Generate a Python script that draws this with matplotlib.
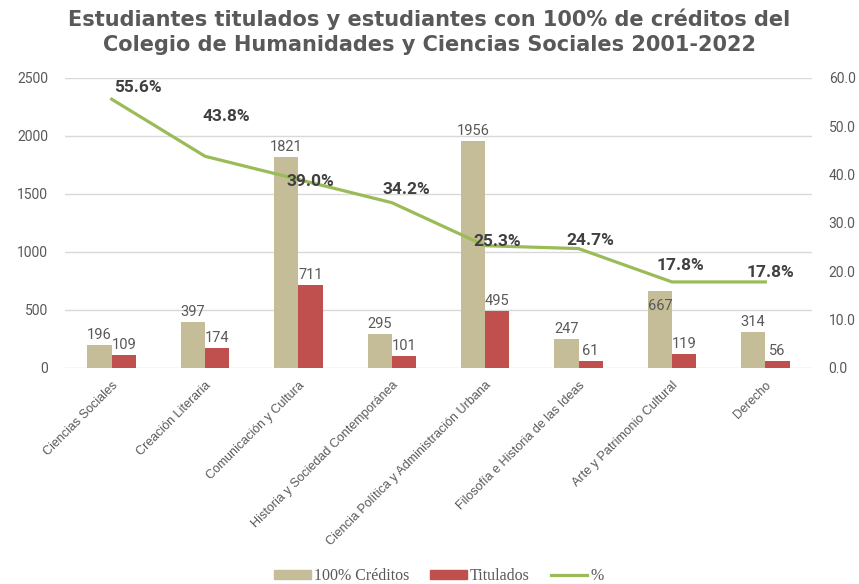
import numpy as np
import matplotlib.pyplot as plt
from matplotlib.lines import Line2D
from matplotlib.patches import Patch

categorias = [
    "Ciencias Sociales",
    "Creación Literaria",
    "Comunicación y Cultura",
    "Historia y Sociedad Contemporánea",
    "Ciencia Política y Administración Urbana",
    "Filosofía e Historia de las Ideas",
    "Arte y Patrimonio Cultural",
    "Derecho",
]
creditos = [196, 397, 1821, 295, 1956, 247, 667, 314]
titulados = [109, 174, 711, 101, 495, 61, 119, 56]
porcentaje = [55.6, 43.8, 39.0, 34.2, 25.3, 24.7, 17.8, 17.8]

# label offsets (pixels) for the % labels, placed by hand like the original
pct_offsets = [(26, 12), (21, 40), (12, -2), (15, 13), (12, 4), (12, 8), (8, 16), (5, 9)]

C_BEIGE = "#C4BD97"
C_RED = "#C0504D"
C_GREEN = "#9BBB59"
C_TEXT = "#595959"
C_GRID = "#D9D9D9"

fig = plt.figure(figsize=(8.59, 5.84), dpi=100)
ax = fig.add_axes([0.0757, 0.3699, 0.8696, 0.4966])
ax2 = ax.twinx()

x = np.arange(len(categorias))
w = 0.26

b1 = ax.bar(x - w / 2, creditos, w, color=C_BEIGE, zorder=2)
b2 = ax.bar(x + w / 2, titulados, w, color=C_RED, zorder=2)

for i, (bar, v) in enumerate(zip(b1, creditos)):
    dy = -22 if v == 667 else 3
    ax.annotate(str(v), (bar.get_x() + bar.get_width() / 2, v),
                xytext=(0, dy), textcoords="offset pixels",
                ha="center", va="bottom", fontsize=10.5, color=C_TEXT,
                family="Roboto", zorder=5)
for bar, v in zip(b2, titulados):
    ax.annotate(str(v), (bar.get_x() + bar.get_width() / 2, v),
                xytext=(0, 3), textcoords="offset pixels",
                ha="center", va="bottom", fontsize=10.5, color=C_TEXT,
                family="Roboto", zorder=5)

ax.set_ylim(0, 2500)
ax.set_yticks(np.arange(0, 2501, 500))
ax.set_xlim(-0.5, len(categorias) - 0.5)
ax.grid(axis="y", color=C_GRID, linewidth=1, zorder=0)
ax.set_axisbelow(True)

ax2.plot(x, porcentaje, color=C_GREEN, linewidth=2.3, zorder=3)
for xi, p, (dx, dy) in zip(x, porcentaje, pct_offsets):
    ax2.annotate(f"{p:.1f}%", (xi, p), xytext=(dx, dy), textcoords="offset pixels",
                 ha="center", va="center", fontsize=12.5, fontweight="bold",
                 color="#404040", family="Roboto", zorder=6)
ax2.set_ylim(0, 60)
ax2.set_yticks(np.arange(0, 61, 10))
ax2.set_yticklabels([f"{v:.1f}" for v in range(0, 61, 10)])

for a in (ax, ax2):
    for s in a.spines.values():
        s.set_visible(False)
    a.tick_params(length=0, labelsize=10, labelcolor=C_TEXT)
    for t in a.get_yticklabels():
        t.set_family("Roboto")
ax.tick_params(axis="y", pad=12)
ax2.tick_params(axis="y", pad=12)

ax.set_xticks(x)
ax.set_xticklabels(categorias, rotation=45, ha="right", rotation_mode="anchor",
                   fontsize=9, color=C_TEXT, family="Liberation Sans")
ax.tick_params(axis="x", pad=8)

fig.suptitle("Estudiantes titulados y estudiantes con 100% de créditos del\n"
             "Colegio de Humanidades y Ciencias Sociales 2001-2022",
             x=0.5, y=0.985, fontsize=15, fontweight="bold", color=C_TEXT,
             family="DejaVu Sans", linespacing=1.3)

handles = [
    Patch(color=C_BEIGE),
    Patch(color=C_RED),
    Line2D([], [], color=C_GREEN, linewidth=2.3),
]
fig.legend(handles, ["100% Créditos", "Titulados", "%"], loc="center",
           bbox_to_anchor=(0.511, 0.014), ncol=3, frameon=False,
           prop={"family": "Liberation Serif", "size": 11.5},
           labelcolor=C_TEXT, handlelength=2.3, handleheight=0.5,
           handletextpad=0.2, columnspacing=1.3)

fig.savefig("out.png", dpi=100)
